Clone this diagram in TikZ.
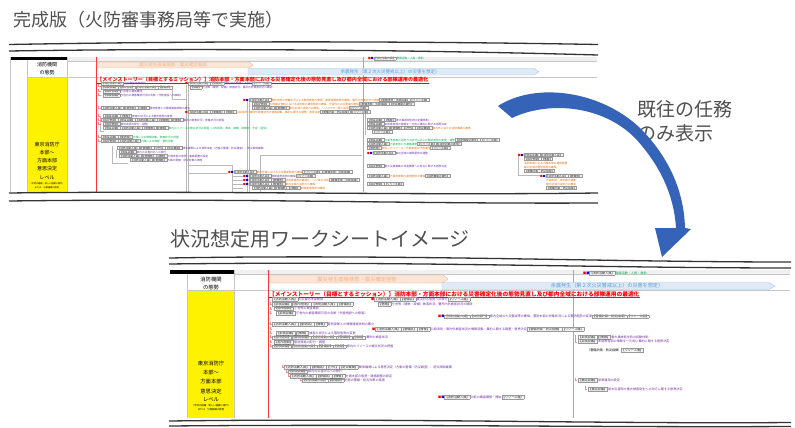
\documentclass[tikz,border=0pt]{standalone}
\usepackage{fontspec}
\setmainfont{Noto Sans CJK JP}
\definecolor{pur}{HTML}{7030A0}
\definecolor{ora}{HTML}{E46C0A}
\definecolor{grn}{HTML}{00B050}
\definecolor{arrowblue}{HTML}{3563B8}
\definecolor{salf}{HTML}{FBE5D6}
\definecolor{sald}{HTML}{F4B183}
\definecolor{blf}{HTML}{DEEBF7}
\definecolor{bld}{HTML}{9DC3E6}
\definecolor{blt}{HTML}{5B9BD5}
\definecolor{vline}{HTML}{8FAADC}
\definecolor{ttl}{HTML}{505050}
\definecolor{frm}{HTML}{333333}
\newcommand\tg[1]{{\setlength\fboxsep{0.2pt}\setlength\fboxrule{0.15pt}\fcolorbox{gray!80}{gray!8}{\textcolor{black!85}{【#1】}}}}
\newcommand\pu[1]{\textcolor{pur}{#1}}
\newcommand\og[1]{\textcolor{ora}{#1}}
\newcommand\gn[1]{\textcolor{grn}{#1}}
\newcommand\rb{\textcolor{red}{■}\textcolor{blue}{■}}
\newcommand\rs{\textcolor{red}{■}}
\tikzset{
  lnA/.style={anchor=west, inner sep=0pt, font=\fontsize{2.7}{3}\selectfont},
  lnB/.style={anchor=west, inner sep=0pt, font=\fontsize{3.1}{3.5}\selectfont},
  wave/.style={draw=frm, line width=1.3pt},
  gridl/.style={draw=gray!45, line width=0.3pt},
  cn/.style={draw=gray!55, line width=0.4pt},
  pk/.style={draw=red!45, line width=0.3pt},
  ttlsty/.style={inner sep=0pt, text=ttl},
  yl1/.style={inner sep=0pt, font=\fontsize{5}{6}\selectfont},
  yl2/.style={inner sep=0pt, font=\fontsize{5.3}{6}\selectfont},
  bantxt/.style={inner sep=0pt},
}
\begin{document}
\begin{tikzpicture}[x=1pt,y=-1pt]
\useasboundingbox (0,0) rectangle (795,428);
\fill[white] (0,0) rectangle (795,428);

% ---------------- titles
\node[ttlsty, anchor=west, font=\fontsize{18}{18}\selectfont] (title1) at (13,20) {完成版（火防審事務局等で実施）};
\node[ttlsty, anchor=west, font=\fontsize{20}{20}\selectfont] (title2) at (170,239) {状況想定用ワークシートイメージ};
\node[ttlsty, anchor=west, font=\fontsize{19}{19}\selectfont] (note1) at (637,109) {既往の任務};
\node[ttlsty, anchor=west, font=\fontsize{19}{19}\selectfont] (note2) at (637,133) {のみ表示};

% ================= SHEET 1 =================
\fill[gray!12] (67,57) rectangle (597,61.5);
\fill[black] (10,57) rectangle (67,60.5);
\fill[yellow] (27,77) rectangle (67,192);
\draw[gridl] (10,57) -- (10,192);
\draw[gridl] (27,60) -- (27,192);
\draw[gridl] (67,57) -- (67,192);
\draw[gridl] (67,61.5) -- (597,61.5);
\draw[gridl] (27,77) -- (597,77);
\draw[red!80, line width=0.5pt] (96,57) -- (96,192);
\draw[vline, line width=0.5pt] (363,57) -- (363,192);
\node[yl1] (s1h1) at (47,64.5) {消防機関};
\node[yl1] (s1h2) at (47,72.5) {の態勢};
\foreach \t/\yy [count=\i] in {東京消防庁/144.5, 本部～/152.5, 方面本部/161, 意思決定/169, レベル/177.5}
  \node[yl1] (ya\i) at (47,\yy) {\t};
\node[inner sep=0pt, font=\fontsize{2.2}{2.6}\selectfont] (ya6) at (47,184) {（平時の組織・新しい組織に移行）};
\node[inner sep=0pt, font=\fontsize{2.2}{2.6}\selectfont] (ya7) at (47,187.5) {または　分掌組織の態勢};

% banners
\filldraw[fill=salf, draw=sald, line width=0.3pt] (97,62) -- (249,62) -- (253,65) -- (249,68) -- (97,68) -- cycle;
\node[bantxt, text=sald, font=\fontsize{4.5}{5}\selectfont] (s1ban1) at (173,65) {震災発生直後態勢・震災確定態勢};
\filldraw[fill=blf, draw=bld, line width=0.3pt] (248,68.5) -- (534,68.5) -- (539,71.8) -- (534,75) -- (248,75) -- cycle;
\node[bantxt, text=blt, font=\fontsize{4.5}{5}\selectfont] (s1ban2) at (390,71.8) {余震発生（第２次火災警戒以上）の災害を想定）};
\node[lnA, text=black] (s1top) at (368,58.5) {\rb\tg{消防活動人員} \gn{現場活動・人員・救助}};
\node[inner sep=0pt, anchor=west, text=red, font=\fontsize{5.1}{6}\selectfont\bfseries] (s1ms) at (97,80) {【メインストーリー（目標とするミッション）】消防本部・方面本部における災害確定化後の態勢見直し及び都内全域における部隊運用の最適化};
\draw[red, line width=0.3pt] (s1ms.south west) -- (s1ms.south east);

% connectors sheet 1
\draw[cn] (186,85) -- (186,192);
\draw[cn] (188.5,85) -- (188.5,192);
\draw[cn] (172,86) -- (172,99) -- (186,99);
\draw[cn] (247,100) -- (247,192);
\draw[cn] (249.5,100) -- (249.5,192);
\draw[cn] (188.5,165) -- (232,165) -- (232,192);
\draw[cn] (188.5,173) -- (228,173);
\draw[cn] (232,176) -- (243,176);
\draw[cn] (232,180) -- (243,180);
\draw[cn] (232,184) -- (243,184);
\draw[cn] (232,188) -- (243,188);
\draw[cn] (260,192) -- (260,155) -- (362,155);
\draw[cn] (100,116) -- (100,131) -- (104,131);
\draw[cn] (112,146) -- (112,163) -- (128,163);
\draw[cn] (116,150) -- (116,158);
\draw[cn] (518,153) -- (518,175) -- (540,175);
\draw[cn] (365,112) -- (365,135);
\foreach \yy [count=\i] in {86,91,95,108,116,120,124,137,141}
  \draw[pk] (98,\yy-2) -- (98,\yy) -- (100.5,\yy);

% entries sheet 1
\node[lnA] (a1) at (101,83.5) {\tg{消防活動人員} \pu{火災警防本部開設}};
\node[lnA] (a2) at (101,87.5) {\tg{部長会議}\tg{指令管制} \tg{消防活動人員}\tg{警備部}};
\node[lnA] (a3) at (103,91.5) {\tg{指令管制} \pu{庁舎等の被害確認}};
\node[lnA] (a4) at (103,95.5) {\tg{部長会議} \pu{庁舎内の被害確認可否の判断（代替施設への移転）}};
\node[lnA] (b1) at (185,83.5) {\rs\tg{消防活動人員}\tg{警備部} \pu{震災対応態勢への移行}\tg{リソース面}};
\node[lnA] (b2) at (190,87.5) {\tg{情報} \pu{庁舎等（建物・設備）被害状況、署所内外被害状況の確認}};
\node[lnA] (a5) at (101,108) {\tg{消防活動人員}\tg{警防部}\tg{情報} \pu{警防部隊との情報連絡体制の確立}};
\node[lnA] (b3) at (185,112) {\rs\tg{消防活動人員}\tg{警備部}\tg{情報} \og{公設消防・都内外被害状況の情報収集・集約に関する調整・意思決定}\tg{警備計画・防災指揮}\tg{リソース面}};
\node[lnA] (a6) at (103,116) {\tg{部長会議}\tg{情報} \pu{被害の状況による警防態勢の変更}};
\node[lnA] (a7) at (101,120) {\tg{指令管制}\tg{部長会議}\tg{消防活動人員}\tg{警備部}\tg{情報} \pu{署所の被害状況、参集状況の把握}};
\node[lnA] (a8) at (103,124) {\tg{指令管制} \pu{警防資源の配分・調整}};
\node[lnA] (a9) at (103,128) {\tg{部長会議}\tg{消防活動人員}\tg{警備部}\tg{情報} \gn{都内のリソースの被災状況の把握（人的資源・車両・装備・資機材・庁舎・通信）}};
\node[lnA] (a10) at (101,137) {\tg{部長会議}\tg{警防部} \gn{方面による情報収集、被害状況の把握}};
\node[lnA] (a11) at (101,141) {\tg{指令管制}\tg{消防活動人員} \gn{方面による情報・警防活動}};
\node[lnA] (a12) at (117,148) {\tg{消防活動人員}\tg{警備部}\tg{庁外}\tg{防災機関} \pu{関係機関による意思決定（方面の警備・防災調査）、防災関係機関}};
\node[lnA] (a13) at (119,152) {\tg{部長会議} \pu{都内の災害対応への移行}};
\node[lnA] (a14) at (119,156) {\tg{消防活動人員}\tg{警備部}\tg{情報} \pu{方面本部の態勢・連絡調整の設定}};
\node[lnA] (a15) at (130,160) {\tg{消防活動人員}\tg{警備部} \pu{方面の警備・防災対策の実施}};
\node[lnA] (c1) at (243,100) {\rb\tg{消防活動人員} \og{警防本部の参集状況による警防態勢の変更、部隊運用態勢の確保、署所の参集状況の把握}\tg{警備本部・当直指揮}\tg{リソース面}};
\node[lnA] (c2) at (252,104) {\tg{指令管制} \og{大規模災害時における消防隊の運用態勢の確保、庁舎内の火災警戒の確保}\tg{警備本部・当直指揮}\tg{防災機関の責任}};
\node[lnA] (c3) at (252,108) {\tg{消防活動人員}\tg{警備部} \og{都内全域の消防力の確保、ヘリコプター等の活用}\tg{リソース面}};
\node[lnA] (d1) at (228,172) {\rb\tg{消防活動人員} \og{都内全域における火災警戒態勢の確保}\tg{リソース面}\tg{警備本部・当直指揮}};
\node[lnA] (d2) at (243,176) {\rb\tg{消防活動人員} \pu{部隊運用態勢の確保}\tg{リソース面}};
\node[lnA] (d3) at (243,180) {\rb\tg{消防活動人員}\tg{警備部} \og{消防隊運用の最適化、ヘリ等の活用}\tg{警備本部・当直指揮}};
\node[lnA] (d4) at (243,184) {\rb\tg{消防活動人員}\tg{警備部} \og{都内全域の消防力の確保}};
\node[lnA] (d5) at (252,188) {\tg{消防活動人員}\tg{警備部}\tg{情報} \og{部隊運用態勢の確保}};
\node[lnA] (e1) at (367,120) {\tg{部長会議}\tg{情報} \pu{重大事故発生時の初動体制}};
\node[lnA] (e2) at (367,124) {\tg{部長会議} \pu{本部等各部の情報を一元的に集約に関する意思決定}};
\node[lnA] (e3) at (367,128) {\tg{消防活動人員}\tg{警備部}\tg{庁外}\tg{防災機関} \og{都内外における消防機関の連携}};
\node[lnA] (e4) at (372,132) {\tg{リソース面}};
\node[lnA] (e5) at (367,140) {\tg{部長会議} \gn{方面本部等の消防力の状況に応じた警防態勢の変更・調整}\tg{消防機関の責任}\tg{リソース面}};
\node[lnA] (e6) at (367,144) {\tg{消防活動人員} \gn{方面本部との連絡調整}\tg{リソース面}\tg{消防活動の責任}};
\node[lnA] (e7) at (367,148) {\tg{警防部} \og{被災したリソース・方面本部の代替運用}\tg{リソース面}};
\node[lnA] (e8) at (367,153) {\rb\tg{消防活動人員} \pu{都内全域の部隊運用の調整}};
\node[lnA] (e9) at (367,166) {\tg{指令管制} \pu{重大災害事案の派遣要請への対応に関する意思決定}};
\node[lnA] (e10) at (367,176) {\tg{消防活動人員} \og{方面本部等の運用態勢の確保}\tg{消防機関の責任}};
\node[lnA] (e11) at (367,184) {\tg{指令管制}\tg{リソース面}};
\node[lnA] (f1) at (518,155) {\rb\tg{部長会議}\tg{消防活動人員}};
\node[lnA] (f2) at (524,159) {\tg{指令管制}\tg{情報}};
\node[lnA] (f3) at (524,163) {\og{消防本部による方面本部の運用調整}};
\node[lnA] (f4) at (524,167) {\og{都内全域の警防態勢の確保}};
\node[lnA] (f5) at (524,171) {\tg{警備計画・防災指揮}};
\node[lnA] (f6) at (540,176) {\rb\tg{消防活動人員}\tg{警備部}};
\node[lnA] (f7) at (546,180) {\og{方面本部・消防署の連携}};
\node[lnA] (f8) at (546,184) {\og{都内全域の消防力の確保}};
\node[lnA] (f9) at (546,188) {\tg{警備計画・防災指揮}};

% sheet 1 break lines
\draw[wave] (9,44.5) .. controls (200,41) and (400,41) .. (598,44.5);
\draw[wave] (9,51) .. controls (200,48) and (420,50) .. (598,55);
\draw[wave] (9,193) .. controls (200,190.5) and (400,195.5) .. (598,193);
\draw[wave] (9,201) .. controls (250,198) and (400,204) .. (598,203);

% ================= SHEET 2 =================
\fill[gray!12] (234,270) rectangle (790,274);
\fill[black] (170,270) rectangle (234,274);
\fill[yellow] (187,291) rectangle (234,418);
\draw[gridl] (187,274) -- (187,418);
\draw[gridl] (234,270) -- (234,418);
\draw[gridl] (234,274) -- (790,274);
\draw[gridl] (187,290.5) -- (790,290.5);
\draw[red!80, line width=0.5pt] (268,270) -- (268,418);
\draw[vline, line width=0.5pt] (573,270) -- (573,418);
\node[yl2] (s2h1) at (211,279) {消防機関};
\node[yl2] (s2h2) at (211,287) {の態勢};
\foreach \t/\yy [count=\i] in {東京消防庁/363, 本部～/372.5, 方面本部/381.5, 意思決定/391, レベル/400}
  \node[yl2] (yb\i) at (211,\yy) {\t};
\node[inner sep=0pt, font=\fontsize{2.4}{2.8}\selectfont] (yb6) at (211,406) {（平時の組織・新しい組織に移行）};
\node[inner sep=0pt, font=\fontsize{2.4}{2.8}\selectfont] (yb7) at (211,409.5) {または　分掌組織の態勢};

\filldraw[fill=salf, draw=sald, line width=0.3pt] (269,275) -- (443,275) -- (448,279) -- (443,283) -- (269,283) -- cycle;
\node[bantxt, text=sald, font=\fontsize{5.3}{6}\selectfont] (s2ban1) at (357,279) {震災発生直後態勢・震災確定態勢};
\filldraw[fill=blf, draw=bld, line width=0.3pt] (442,282.5) -- (769,282.5) -- (775,286) -- (769,289.5) -- (442,289.5) -- cycle;
\node[bantxt, text=blt, font=\fontsize{5.1}{6}\selectfont] (s2ban2) at (607,286) {余震発生（第２次火災警戒以上）の災害を想定）};
\node[lnB, text=black] (s2top) at (583,273) {\rb\tg{消防活動人員} \gn{現場活動・人員・救助}};
\node[inner sep=0pt, anchor=west, text=red, font=\fontsize{5.7}{6.5}\selectfont\bfseries] (s2ms) at (269,294.5) {【メインストーリー（目標とするミッション）】消防本部・方面本部における災害確定化後の態勢見直し及び都内全域における部隊運用の最適化};
\draw[red, line width=0.35pt] (s2ms.south west) -- (s2ms.south east);

\foreach \yy [count=\i] in {304,309,313,324,329,333,337,342,346}
  \draw[pk] (270,\yy-2) -- (270,\yy) -- (272,\yy);
\foreach \xx/\yy [count=\i] in {282/367,286/372,288/376,300/380}
  \draw[pk] (\xx,\yy-2) -- (\xx,\yy) -- (\xx+2,\yy);
\draw[pk] (575,335) -- (575,342) -- (577,342);
\draw[pk] (575,378) -- (575,380) -- (577,380);
\draw[pk] (585,386) -- (585,389) -- (587,389);

\node[lnB] (g1) at (272,299) {\tg{消防活動人員} \pu{火災警防本部開設}};
\node[lnB] (g2) at (272,304) {\tg{部長会議}\tg{指令管制} \tg{消防活動人員}\tg{警備部}};
\node[lnB] (g3) at (274,308.5) {\tg{指令管制} \pu{庁舎等の被害確認}};
\node[lnB] (g4) at (276,313) {\tg{部長会議} \pu{庁舎内の被害確認可否の判断（代替施設への移転）}};
\node[lnB] (h1) at (371,299) {\rs\tg{消防活動人員}\tg{警備部} \pu{震災対応態勢への移行}\tg{リソース面}};
\node[lnB] (h2) at (378,304) {\tg{情報} \pu{庁舎等（建物・設備）被害状況、署所内外被害状況の確認}};
\node[lnB] (h3) at (438,316.5) {\rb\tg{消防活動人員}\tg{共同部門} \pu{都内全域の火災警戒等の確保、警防本部の参集状況による警防態勢の変更}\tg{警備計画・防災指揮}\tg{リソース面}};
\node[lnB] (g5) at (272,324) {\tg{消防活動人員}\tg{警防部}\tg{情報} \pu{警防部隊との情報連絡体制の確立}};
\node[lnB] (h4) at (372,329) {\rs\tg{消防活動人員}\tg{警備部}\tg{情報} \pu{公設消防・都内外被害状況の情報収集・集約に関する調整・意思決定}\tg{警備計画・防災指揮}\tg{リソース面}};
\node[lnB] (g6) at (276,333) {\tg{部長会議}\tg{情報} \pu{被害の状況による警防態勢の変更}};
\node[lnB] (g7) at (272,337.5) {\tg{指令管制}\tg{部長会議}\tg{消防活動人員}\tg{警備部}\tg{情報} \pu{署所の被害状況}};
\node[lnB] (g8) at (274,342) {\tg{指令管制} \pu{警防資源の配分・調整}};
\node[lnB] (g9) at (272,346.5) {\tg{部長会議}\tg{消防活動人員}\tg{警備部}\tg{情報} \pu{都内のリソースの被災状況の把握}};
\node[lnB] (k1) at (578,337) {\tg{部長会議}\tg{情報} \pu{重大事故発生時の初動体制}};
\node[lnB] (k2) at (578,341) {\tg{部長会議} \pu{本部等各部の情報を一元的に集約に関する意思決定}};
\node[lnB] (k3) at (587,350) {（警備計画・防災指揮）\tg{リソース面}};
\node[lnB] (g10) at (284,367) {\tg{消防活動人員}\tg{警備部}\tg{庁外}\tg{防災機関} \pu{関係機関による意思決定（方面の警備・防災調査）、防災関係機関}};
\node[lnB] (g11) at (288,371.5) {\tg{部長会議} \pu{都内の災害対応への移行}};
\node[lnB] (g12) at (290,376) {\tg{消防活動人員}\tg{警備部}\tg{情報} \pu{方面本部の態勢・連絡調整の設定}};
\node[lnB] (g13) at (302,380.5) {\tg{消防活動人員}\tg{警備部} \pu{方面の警備・防災対策の実施}};
\node[lnB] (k4) at (578,380) {\tg{補足会議} \pu{部隊運用の設定}};
\node[lnB] (k5) at (588,389) {\tg{補足会議} \pu{基本災害時の重大被害発生への対応に関する意思決定}};
\node[lnB] (h5) at (438,397) {\rb\tg{消防活動人員} \pu{中枢の機能確保・開始}\tg{リソース面}};

% sheet 2 break lines
\draw[wave] (169,258) .. controls (400,254) and (600,262) .. (791,262);
\draw[wave] (169,264) .. controls (400,261) and (600,268) .. (791,268);
\draw[wave] (169,421) .. controls (400,418) and (600,424) .. (791,422.5);
\draw[wave] (169,426) .. controls (400,424) and (600,427.5) .. (791,426.5);

% ================= curved arrow =================
\fill[arrowblue] (498,106) .. controls (535,82) and (600,90) .. (640,128)
   .. controls (668,156) and (684,190) .. (685,228)
   -- (691,229) -- (662,257) -- (655,228) -- (676,228)
   .. controls (674,195) and (660,165) .. (635,138)
   .. controls (600,103) and (545,102) .. (512,118) -- cycle;
\end{tikzpicture}
\end{document}
